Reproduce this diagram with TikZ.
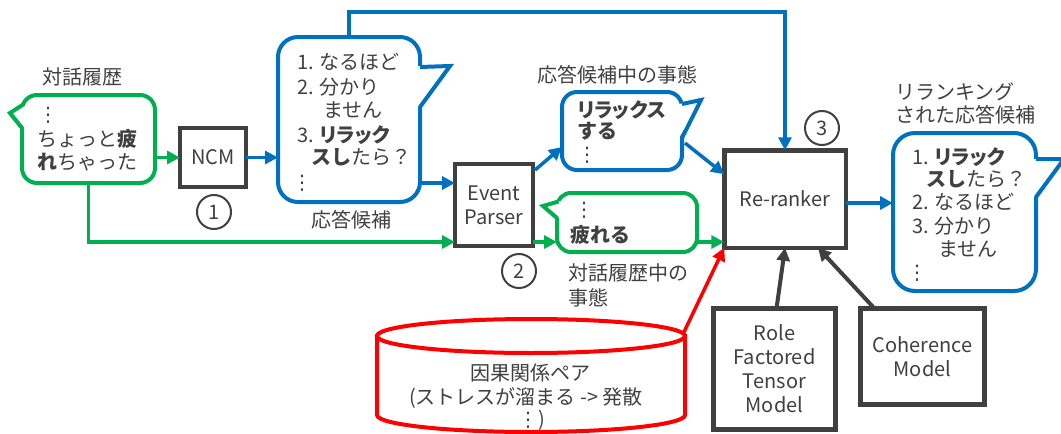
\documentclass[tikz,border=0pt]{standalone}
\usepackage{fontspec}
\setmainfont{Noto Sans CJK JP}
\newfontfamily\pk{Noto Sans CJK JP}[RawFeature=+palt]
\newfontfamily\dv{DejaVu Sans}
\usetikzlibrary{arrows.meta,calc}
\definecolor{cblue}{HTML}{0070C0}
\definecolor{cgreen}{HTML}{00B050}
\definecolor{cred}{HTML}{FF0000}
\definecolor{cgray}{HTML}{404040}
\definecolor{ctext}{HTML}{404040}
\newcommand\fsz{\fontsize{20}{24}\selectfont}
\newcommand\vdt{{\dv ⋮}}
\begin{document}
\begin{tikzpicture}[x=1pt,y=-1pt,
  box/.style={draw=cgray, line width=4.5pt, fill=white, inner sep=0pt, outer sep=0pt, text=ctext, align=center, font=\fsz},
  bodyb/.style={rectangle, inner sep=0pt, outer sep=0pt, draw=none},
  t/.style={text=ctext, inner sep=0pt, anchor=west, font=\fsz},
  tc/.style={text=ctext, inner sep=0pt, anchor=center, font=\fsz},
  circ/.style={circle, draw=cgray, line width=2pt, minimum size=34pt, inner sep=0pt, text=ctext, font=\fsz},
  gb/.style={draw=cgreen, fill=white, line width=4pt},
  bb/.style={draw=cblue, fill=white, line width=4pt},
  garr/.style={draw=cgreen, line width=3.5pt, -{Triangle[length=13pt,width=13pt]}},
  barr/.style={draw=cblue, line width=3.5pt, -{Triangle[length=13pt,width=13pt]}},
  rarr/.style={draw=cred, line width=3.5pt, -{Triangle[length=13pt,width=13pt]}},
  karr/.style={draw=cgray, line width=4pt, -{Triangle[length=13pt,width=13pt]}}
]
\useasboundingbox (0,0) rectangle (1061,434);
\fill[white] (0,0) rectangle (1061,434);

% coordinates for connector levels
\coordinate (ty) at (0,12);
\coordinate (by) at (0,183);
\coordinate (gy) at (0,242);

% bubble bodies
\node[bodyb, minimum width=133pt, minimum height=88pt] (h) at (88.5,139) {};
\node[bodyb, minimum width=142pt, minimum height=165pt] (c) at (349,119.5) {};
\node[bodyb, minimum width=120pt, minimum height=78pt] (ce) at (622,131) {};
\node[bodyb, minimum width=140pt, minimum height=59pt] (he) at (627,222.5) {};
\node[bodyb, minimum width=143pt, minimum height=158pt] (r) at (964.5,212) {};

% bubble 1 (green)
\filldraw[gb, rounded corners=15pt] (h.north west) rectangle (h.south east);
\fill[white] (25,106) -- (10,113) -- (25,128) -- cycle;
\draw[gb, fill=none] (22.5,105) -- (10,113) -- (22,128);

% bubble 2 (blue)
\filldraw[bb, rounded corners=20pt] (c.north west) rectangle (c.south east);
\fill[white] (417,66) -- (450,66) -- (417,108) -- cycle;
\draw[bb, fill=none] (420,67) -- (450,66) -- (420,107);

% bubble 3 (blue)
\filldraw[bb, rounded corners=15pt] (ce.north west) rectangle (ce.south east);
\fill[white] (679,104) -- (701,100) -- (679,138) -- cycle;
\draw[bb, fill=none] (682,104) -- (701,100) -- (682,138);

% bubble 4 (green)
\filldraw[gb, rounded corners=14pt] (he.north west) rectangle (he.south east);
\fill[white] (561,201) -- (543,206) -- (561,219) -- cycle;
\draw[gb, fill=none] (558.5,201.5) -- (543,206) -- (557,218);

% bubble 5 (blue)
\filldraw[bb, rounded corners=22pt] (r.north west) rectangle (r.south east);
\fill[white] (1033,159) -- (1064,159) -- (1033,198) -- cycle;
\draw[bb, fill=none] (1036,159) -- (1064,159) -- (1036,197);

% cylinder
\coordinate (dbtr) at (684,332);
\filldraw[draw=cred, fill=white, line width=4pt] (377,336) -- (377,415)
  arc[start angle=180, end angle=360, x radius=154pt, y radius=17pt] -- (685,336) -- cycle;
\filldraw[draw=cred, fill=white, line width=4pt] (531,336) ellipse [x radius=154pt, y radius=17pt];

% boxes
\node[box, minimum width=66pt, minimum height=59pt] (ncm) at (213,157.5) {NCM};
\node[box, minimum width=78pt, minimum height=82pt] (ep) at (494,205) {Event\\Parser};
\node[box, minimum width=121.5pt, minimum height=97.5pt] (rr) at (785,199) {Re-ranker};
\node[box, minimum width=122pt, minimum height=121pt] (rf) at (774.5,369) {Role\\Factored\\Tensor\\Model};
\node[box, minimum width=124pt, minimum height=96pt] (co) at (922.5,356.5) {Coherence\\Model};

% circled numbers
\node[circ] (n1) at (214,212) {1};
\node[circ] (n2) at (519,271) {2};
\node[circ] (n3) at (822,128) {3};

% connectors
\draw[garr] (h.east |- ncm.west) -- (ncm.west);
\draw[garr] (h.south) |- (ep.west |- gy);
\draw[barr] (ncm.east) -- (ncm.east -| c.west);
\draw[barr] (c.east |- by) -- (ep.west |- by);
\draw[barr] (c.north) -- (c.north |- ty) -| (rr.north);
\draw[barr] ($(ep.north east)+(2,6)$) -- ($(ce.south west)+(0,-23)$);
\draw[barr] ($(ce.east)+(3,12)$) -- ($(rr.north west)+(0,24)$);
\draw[garr] (ep.east |- gy) -- (he.west |- gy);
\draw[garr] (he.east |- gy) -- (rr.west |- gy);
\draw[rarr] (dbtr) -- (rr.south west);
\coordinate (ry) at ($(rr.east)+(0,4)$);
\draw[barr] (ry) -- (r.west |- ry);
\draw[karr] ($(rf.north)+(2,0)$) -- (rr.south);
\draw[karr] ($(co.north west)+(14,0)$) -- ($(rr.south)+(33,0)$);

% texts: bubble 1
\node[tc] (h0) at (48,115) {\vdt};
\node[t] (h1) at (37,139) {ちょっと{\bfseries 疲}};
\node[t] (h2) at (37,162) {{\bfseries れ}ちゃった};
% bubble 2
\node[t] (c1) at (297,62) {1. なるほど};
\node[t] (c2) at (297,87) {2. 分かり};
\node[t] (c3) at (323,110) {ません};
\node[t] (c4) at (297,135) {3. {\bfseries\pk リラック}};
\node[t] (c5) at (312,157) {{\bfseries\pk ス}{\bfseries し}たら？};
\node[tc] (c6) at (302,183) {\vdt};
% bubble 3
\node[t] (e1) at (577,110) {{\bfseries\pk リラックス}};
\node[t] (e2) at (577,131) {{\bfseries する}};
\node[tc] (e3) at (587,155) {\vdt};
% bubble 4
\node[tc] (f1) at (584,210) {\vdt};
\node[t] (f2) at (570,235) {{\bfseries 疲れる}};
% bubble 5
\node[t] (r1) at (912,157) {1. {\bfseries\pk リラック}};
\node[t] (r2) at (927,179) {{\bfseries\pk ス}{\bfseries し}たら？};
\node[t] (r3) at (912,202) {2. なるほど};
\node[t] (r4) at (912,226) {3. 分かり};
\node[t] (r5) at (938,249) {ません};
\node[tc] (r6) at (917,273) {\vdt};
% labels
\node[tc] (l1) at (82,77) {対話履歴};
\node[tc] (l2) at (351,220) {応答候補};
\node[t] (l3) at (537,75) {応答候補中の事態};
\node[t] (l4) at (568,273) {対話履歴中の};
\node[t] (l5) at (568,298) {事態};
\node[t] (l6) at (895,92) {リランキング};
\node[t] (l7) at (895,115) {された応答候補};
% cylinder text
\node[tc] (d1) at (530,373) {因果関係ペア};
\node[tc] (d2) at (526,398) {(ストレスが溜まる -> 発散};
\node[t] (d3) at (518,420) {\vdt)};
\end{tikzpicture}
\end{document}
